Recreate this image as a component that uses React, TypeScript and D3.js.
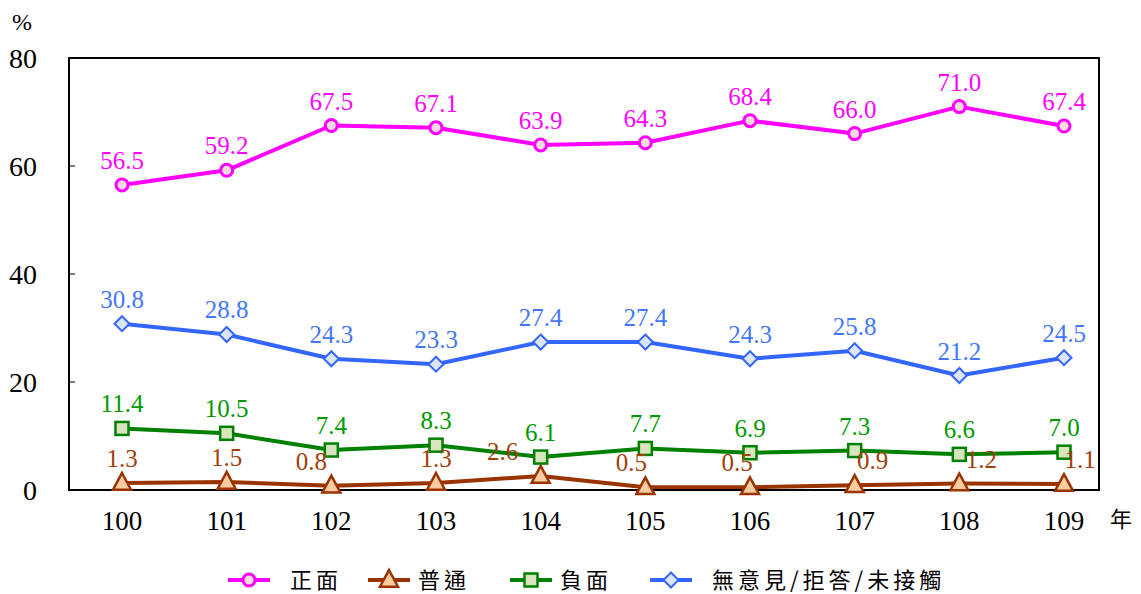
import React from "react";
import * as d3 from "d3";

const categories = ["100", "101", "102", "103", "104", "105", "106", "107", "108", "109"];
const positive = [56.5, 59.2, 67.5, 67.1, 63.9, 64.3, 68.4, 66.0, 71.0, 67.4];
const neutral = [1.3, 1.5, 0.8, 1.3, 2.6, 0.5, 0.5, 0.9, 1.2, 1.1];
const negative = [11.4, 10.5, 7.4, 8.3, 6.1, 7.7, 6.9, 7.3, 6.6, 7.0];
const noOpinion = [30.8, 28.8, 24.3, 23.3, 27.4, 27.4, 24.3, 25.8, 21.2, 24.5];
const yTicks = [0, 20, 40, 60, 80];
const seriesNames = ["正面", "普通", "負面", "無意見/拒答/未接觸"];
// horizontal label nudges for the neutral series (layout only)
const neutralLabelDx = [0, 0, -20, 0, -38, -14, -13, 18, 22, 16];

const W = 1141;
const H = 594;
const plot = { left: 69, right: 1099, top: 58, bottom: 490 };
const SERIF = "'Liberation Serif', 'Times New Roman', Times, 'DejaVu Serif', serif";
const CJK = "'Noto Sans CJK TC', 'Noto Sans CJK SC', sans-serif";

export default function App() {
  const x = d3.scalePoint<string>().domain(categories).range([122, 1064]);
  const y = d3.scaleLinear().domain([0, 80]).range([plot.bottom, plot.top]);
  const line = d3
    .line<number>()
    .x((_, i) => x(categories[i]) as number)
    .y((d) => y(d));

  const series = [
    { name: seriesNames[0], data: positive, color: "#FF00FF", label: "#FF00FF", fill: "#F2DCDB", marker: "circle" },
    { name: seriesNames[1], data: neutral, color: "#993300", label: "#A0400A", fill: "#FCCBA0", marker: "triangle" },
    { name: seriesNames[2], data: negative, color: "#008000", label: "#009900", fill: "#D8E4BC", marker: "square" },
    { name: seriesNames[3], data: noOpinion, color: "#3366FF", label: "#4477FF", fill: "#DCE6F2", marker: "diamond" },
  ];

  const marker = (type: string, cx: number, cy: number, color: string, fill: string, key: any) => {
    if (type === "circle")
      return <circle key={key} cx={cx} cy={cy} r={6} fill={fill} stroke={color} strokeWidth={3} />;
    if (type === "triangle") {
      const s = 9;
      const p = `${cx},${cy - s - 1} ${cx + s},${cy + s * 0.75} ${cx - s},${cy + s * 0.75}`;
      return <polygon key={key} points={p} fill={fill} stroke={color} strokeWidth={2.5} strokeLinejoin="miter" />;
    }
    if (type === "square")
      return <rect key={key} x={cx - 6.5} y={cy - 6.5} width={13} height={13} fill={fill} stroke={color} strokeWidth={2.5} />;
    const s = 7.5;
    const p = `${cx},${cy - s} ${cx + s},${cy} ${cx},${cy + s} ${cx - s},${cy}`;
    return <polygon key={key} points={p} fill={fill} stroke={color} strokeWidth={2} />;
  };

  const legendX = [228, 368, 510, 650];
  const legendTextX = [290, 418, 560, 712];
  const legendY = 580;

  return (
    <svg width={W} height={H} style={{ position: "absolute", left: 0, top: 0, background: "#fff" }}>
      <rect width={W} height={H} fill="#fff" />
      {yTicks.slice(1, -1).map((t) => (
        <line key={t} x1={plot.left} x2={plot.left + 6} y1={y(t)} y2={y(t)} stroke="#000" strokeWidth={1} />
      ))}
      {yTicks.map((t) => (
        <text key={t} x={37} y={y(t)} dy="0.35em" textAnchor="end" style={{ fontFamily: SERIF, fontSize: 28 }} fill="#000">
          {t}
        </text>
      ))}
      <text x={22} y={30} textAnchor="middle" style={{ fontFamily: SERIF, fontSize: 24 }} fill="#000">
        %
      </text>
      {categories.map((c) => (
        <text key={c} x={x(c)} y={530} textAnchor="middle" style={{ fontFamily: SERIF, fontSize: 27 }} fill="#000">
          {c}
        </text>
      ))}
      <text x={1121} y={527} textAnchor="middle" style={{ fontFamily: CJK, fontSize: 22 }} fill="#000">
        年
      </text>
      {series.map((s) => (
        <path key={s.name} d={line(s.data) || ""} fill="none" stroke={s.color} strokeWidth={4} strokeLinejoin="round" />
      ))}
      <rect x={plot.left} y={plot.top} width={plot.right - plot.left} height={plot.bottom - plot.top} fill="none" stroke="#000" strokeWidth={2} />
      {series.map((s) =>
        s.data.map((d, i) => marker(s.marker, x(categories[i]) as number, y(d), s.color, s.fill, s.name + i))
      )}
      {series.map((s, si) =>
        s.data.map((d, i) => (
          <text
            key={s.name + "l" + i}
            x={(x(categories[i]) as number) + (si === 1 ? neutralLabelDx[i] : 0)}
            y={y(d) - 16}
            textAnchor="middle"
            style={{ fontFamily: SERIF, fontSize: 25 }}
            fill={s.label}
          >
            {d.toFixed(1)}
          </text>
        ))
      )}
      {series.map((s, i) => (
        <g key={s.name + "leg"}>
          <line x1={legendX[i]} x2={legendX[i] + 42} y1={legendY} y2={legendY} stroke={s.color} strokeWidth={4} />
          {marker(s.marker, legendX[i] + 21, legendY, s.color, s.fill, "lm" + i)}
          <text x={legendTextX[i]} y={legendY} dy="0.36em" style={{ fontFamily: CJK, fontSize: 22, letterSpacing: 4 }} fill="#000">
            {s.name}
          </text>
        </g>
      ))}
    </svg>
  );
}
